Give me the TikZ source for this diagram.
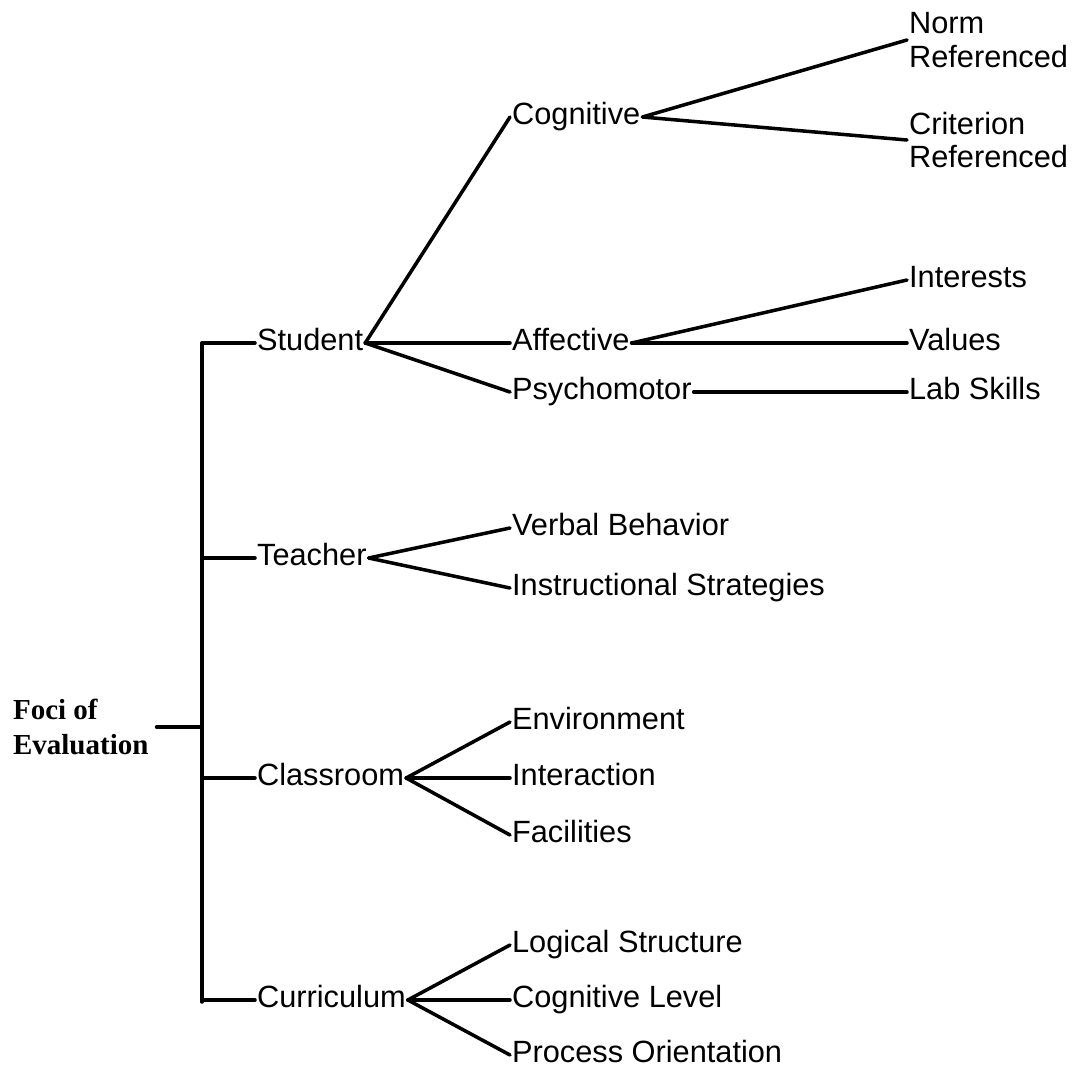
\documentclass[tikz,border=0pt]{standalone}
\usepackage{fontspec}
\newfontfamily\branchfont{Liberation Sans}
\newfontfamily\rootfont{Liberation Serif}
\usepackage{tikz}
\usetikzlibrary{calc}

\tikzset{
    focus/.style={anchor=west, inner sep=1pt,
        font=\branchfont\fontsize{17.5}{21}\selectfont,
        text height=12.5pt, text depth=3.7pt},
    focuspair/.style={anchor=west, inner sep=1pt, align=left,
        font=\branchfont\fontsize{17.5}{19.3}\selectfont},
    link/.style={line width=2pt, line cap=round}
}

\begin{document}
\begin{tikzpicture}[x=0.02cm, y=-0.02cm]
        %FRAME
        \useasboundingbox (0,0) rectangle (1075,1086);

        %ROOT
        \node[anchor=west, inner sep=1pt, align=left,
              font=\rootfont\bfseries\fontsize{16.5}{20}\selectfont] (foci) at (11,727) {Foci of\\Evaluation};

        %LEVEL 1
        \node[focus] (student)    at (255,343)  {Student};
        \node[focus] (teacher)    at (255,558)  {Teacher};
        \node[focus] (classroom)  at (255,778)  {Classroom};
        \node[focus] (curriculum) at (255,1000) {Curriculum};

        %LEVEL 2
        \node[focus] (cognitive)     at (510,117)  {Cognitive};
        \node[focus] (affective)     at (510,343)  {Affective};
        \node[focus] (psychomotor)   at (510,392)  {Psychomotor};
        \node[focus] (verbal)        at (510,528)  {Verbal Behavior};
        \node[focus] (instructional) at (510,588)  {Instructional Strategies};
        \node[focus] (environment)   at (510,722)  {Environment};
        \node[focus] (interaction)   at (510,778)  {Interaction};
        \node[focus] (facilities)    at (510,835)  {Facilities};
        \node[focus] (logical)       at (510,945)  {Logical Structure};
        \node[focus] (coglevel)      at (510,1000) {Cognitive Level};
        \node[focus] (process)       at (510,1055) {Process Orientation};

        %LEVEL 3
        \node[focuspair] (norm)      at (907,40)  {Norm\\Referenced};
        \node[focuspair] (criterion) at (907,140) {Criterion\\Referenced};
        \node[focus] (interests)     at (907,280) {Interests};
        \node[focus] (values)        at (907,343) {Values};
        \node[focus] (labskills)     at (907,392) {Lab Skills};

        %BRACKET
        \coordinate (btop) at (202,343);
        \coordinate (bbot) at (202,1002);
        \draw[link] (btop) -- (bbot);
        \draw[link] (foci.east) ++(6,0) -- (foci.east -| btop);
        \foreach \f in {student,teacher,classroom,curriculum}
            \draw[link] (\f.west -| btop) -- (\f.west);

        %BRANCHES
        \foreach \a/\b in {student/cognitive, student/affective, student/psychomotor,
                           teacher/verbal, teacher/instructional,
                           classroom/environment, classroom/interaction, classroom/facilities,
                           curriculum/logical, curriculum/coglevel, curriculum/process,
                           cognitive/norm, cognitive/criterion,
                           affective/interests, affective/values,
                           psychomotor/labskills}
            \draw[link] (\a.east) -- (\b.west);
    \end{tikzpicture}
\end{document}
